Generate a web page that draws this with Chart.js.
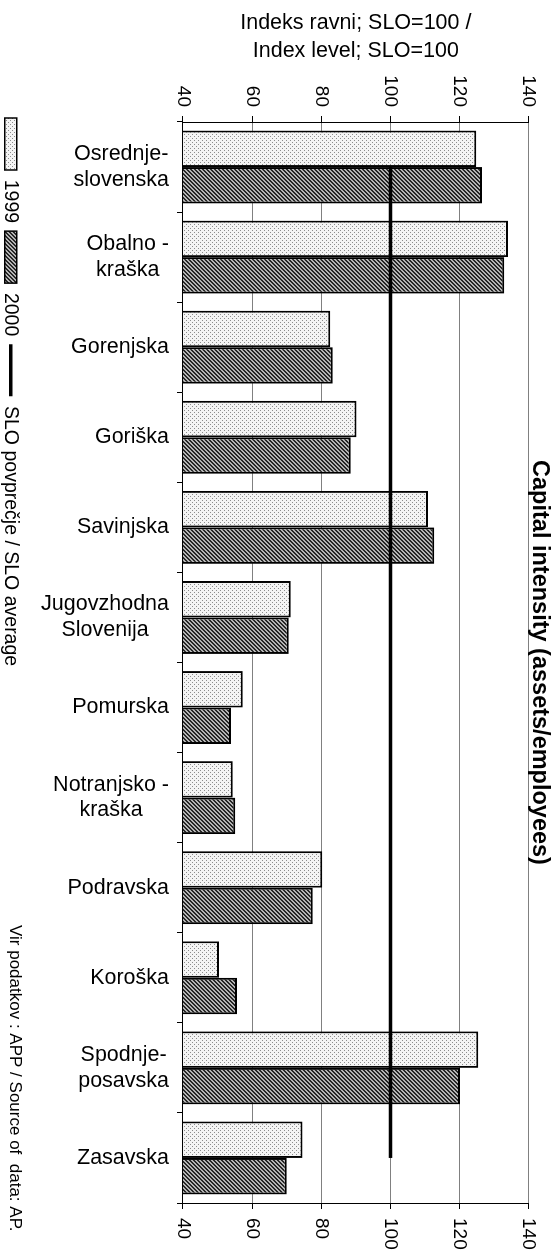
<!DOCTYPE html>
<html>
<head>
<meta charset="utf-8">
<title>Capital intensity (assets/employees)</title>
<script src="https://cdn.jsdelivr.net/npm/chart.js@4"></script>
<style>
  html, body { margin: 0; padding: 0; background: #fff; overflow: hidden; }
  /* the chart is drawn upright and then turned a quarter clockwise, like the printed page */
  #wrap {
    position: absolute; left: 0; top: 0;
    width: 1255px; height: 551px;
    transform-origin: 0 0;
    transform: translateX(551px) rotate(90deg);
  }
</style>
</head>
<body>
<div id="wrap"><canvas id="chart" width="1255" height="551"></canvas></div>
<script>
// ===== data =====
const regions = [
    ['Osrednje-', 'slovenska'],
    ['Obalno -', 'kraška'],
    'Gorenjska',
    'Goriška',
    'Savinjska',
    ['Jugovzhodna', 'Slovenija'],
    'Pomurska',
    ['Notranjsko -', 'kraška'],
    'Podravska',
    'Koroška',
    ['Spodnje-', 'posavska'],
    'Zasavska'
];
const index1999 = [124.8, 134.0, 82.6, 90.2, 110.9, 71.2, 57.3, 54.4, 80.3, 50.4, 125.4, 74.6];
const index2000 = [126.5, 132.9, 83.3, 88.5, 112.7, 70.6, 53.9, 55.1, 77.5, 55.6, 120.1, 70.0];
const sloAverage = [100, 100, 100, 100, 100, 100, 100, 100, 100, 100, 100, 100];
const valueTicks = [40, 60, 80, 100, 120, 140];

const chartTitle = 'Capital intensity (assets/employees)';
const axisTitle = ['Indeks ravni; SLO=100 /', 'Index level; SLO=100'];
const sourceText = 'Vir podatkov : APP / Source of  data: AP.';

Chart.defaults.font.family = "'Liberation Sans', Arial, sans-serif";
Chart.defaults.color = '#000';

// ------ fill patterns (dotted / hatched like the print) ------
function makePattern(paint) {
    const c = document.createElement('canvas');
    c.width = 4;
    c.height = 4;
    const g = c.getContext('2d');
    paint(g);
    return g.createPattern(c, 'repeat');
}
const dottedFill = makePattern(g => {
    g.fillStyle = '#f4f4f4';
    g.fillRect(0, 0, 4, 4);
    g.fillStyle = '#8c8c8c';
    g.fillRect(0, 0, 1, 1);
    g.fillRect(2, 2, 1, 1);
});
const hatchedFill = makePattern(g => {
    g.fillStyle = '#b4b4b4';
    g.fillRect(0, 0, 4, 4);
    g.fillStyle = '#262626';
    for (let x = 0; x < 4; x++) {
        for (let y = 0; y < 4; y++) {
            if ((x + y) % 4 < 2) g.fillRect(x, y, 1, 1);
        }
    }
});

const useValueTicks = (scale) => { scale.ticks = valueTicks.map(v => ({ value: v })); };

// two-line region names: centre the block on its tick and the lines on each other
const centerMultiline = {
    id: 'centerMultiline',
    beforeDraw(chart) {
        const ctx = chart.ctx;
        const items = chart.scales.x.getLabelItems(chart.chartArea);
        items.forEach(item => {
            if (item._centered || !Array.isArray(item.label)) return;
            ctx.save();
            ctx.font = item.font.string;
            const w = Math.max(...item.label.map(t => ctx.measureText(t).width));
            ctx.restore();
            const lh = item.font.lineHeight;
            item.options.translation[0] -= lh * (item.label.length - 1) / 2;
            item.options.translation[1] += w / 2;
            item.options.textAlign = 'center';
            item._centered = true;
        });
    }
};

// legend sits a bit further along the edge than Chart.js puts it
const legendPlace = {
    id: 'legendPlace',
    afterLayout(chart) {
        chart.legend.left += 110;
        chart.legend.top += 9;
    }
};

const sourceNote = {
    id: 'sourceNote',
    afterDraw(chart) {
        const ctx = chart.ctx;
        ctx.save();
        ctx.font = "17px 'Liberation Sans', Arial, sans-serif";
        ctx.fillStyle = '#000';
        ctx.textBaseline = 'middle';
        ctx.fillText(sourceText, 925, 536);
        ctx.restore();
    }
};

new Chart(document.getElementById('chart'), {
    type: 'bar',
    data: {
        labels: regions,
        datasets: [
            {
                label: '1999',
                data: index1999,
                backgroundColor: dottedFill,
                borderColor: '#000',
                borderWidth: 2,
                borderSkipped: false,
                categoryPercentage: 0.81,
                barPercentage: 1.0,
                order: 1
            },
            {
                label: '2000',
                data: index2000,
                backgroundColor: hatchedFill,
                borderColor: '#000',
                borderWidth: 2,
                borderSkipped: false,
                categoryPercentage: 0.81,
                barPercentage: 1.0,
                order: 1
            },
            {
                type: 'line',
                label: 'SLO povprečje / SLO average',
                data: sloAverage,
                borderColor: '#000',
                backgroundColor: '#000',
                borderWidth: 3.5,
                pointRadius: 0,
                fill: false,
                order: 0
            }
        ]
    },
    options: {
        responsive: false,
        animation: false,
        layout: { padding: 0 },
        plugins: {
            title: {
                display: true,
                fullSize: false,
                text: chartTitle,
                color: '#000',
                font: { size: 23.5, weight: 'bold', lineHeight: 0.95 },
                padding: 0
            },
            legend: {
                position: 'bottom',
                align: 'start',
                labels: {
                    usePointStyle: true,
                    pointStyleWidth: 52,
                    boxHeight: 12,
                    padding: 8,
                    color: '#000',
                    font: { size: 19.5 },
                    sort: (a, b) => a.datasetIndex - b.datasetIndex,
                    generateLabels(chart) {
                        const items = Chart.defaults.plugins.legend.labels.generateLabels(chart);
                        items.forEach(it => {
                            const ds = chart.data.datasets[it.datasetIndex];
                            if (ds.type === 'line') {
                                it.pointStyle = 'line';
                            } else {
                                it.pointStyle = 'rect';
                                it.lineWidth = 1.5;
                            }
                        });
                        return items;
                    }
                }
            },
            tooltip: { enabled: false }
        },
        scales: {
            x: {
                afterFit: (s) => { s.height = 145.5; },
                grid: { drawOnChartArea: false, offset: true, tickLength: 6, tickColor: '#000' },
                border: { color: '#000', width: 1 },
                ticks: {
                    color: '#000',
                    font: { size: 21.5, lineHeight: 1.2 },
                    minRotation: 90,
                    maxRotation: 90,
                    autoSkip: false,
                    padding: 8
                }
            },
            y: {
                position: 'left',
                min: 40,
                max: 140,
                afterBuildTicks: useValueTicks,
                afterFit: (s) => { s.width = 122; },
                grid: { color: '#808080', lineWidth: 1, tickLength: 6, tickColor: '#000' },
                border: { color: '#000', width: 1 },
                ticks: { color: '#000', font: { size: 19 }, padding: 9 },
                title: {
                    display: true,
                    text: axisTitle,
                    color: '#000',
                    font: { size: 21.5, lineHeight: 1.3 },
                    padding: { top: 9, bottom: 0 }
                }
            },
            y2: {
                position: 'right',
                min: 40,
                max: 140,
                afterBuildTicks: useValueTicks,
                afterFit: (s) => { s.width = 52; },
                grid: { drawOnChartArea: false, tickLength: 6, tickColor: '#000' },
                border: { color: '#000', width: 1 },
                ticks: { color: '#000', font: { size: 19 }, padding: 9 }
            }
        }
    },
    plugins: [centerMultiline, legendPlace, sourceNote]
});
</script>
</body>
</html>
